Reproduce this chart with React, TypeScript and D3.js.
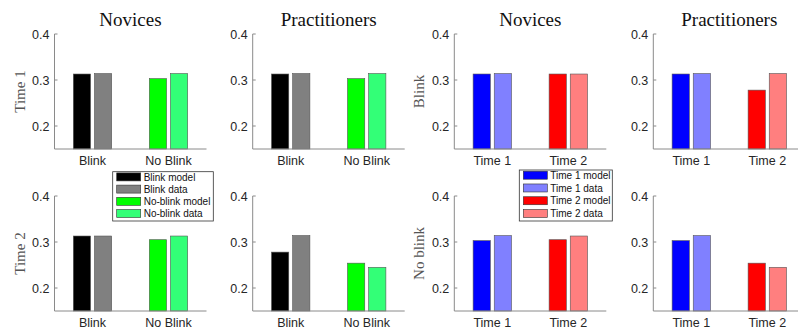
import React from "react";
import * as d3 from "d3";

// ---- data ----
const blinkCategories = ["Blink", "No Blink"];
const timeCategories = ["Time 1", "Time 2"];
const groupTitles = ["Novices", "Practitioners"];
const rowLabelsLeft = ["Time 1", "Time 2"];
const rowLabelsRight = ["Blink", "No blink"];
const yTicks = [0.2, 0.3, 0.4];

// values indexed by [Time 1, Time 2]
const novBlinkModel = [0.313, 0.313];
const novBlinkData = [0.314, 0.313];
const novNoBlinkModel = [0.303, 0.305];
const novNoBlinkData = [0.314, 0.313];
const praBlinkModel = [0.313, 0.278];
const praBlinkData = [0.314, 0.314];
const praNoBlinkModel = [0.303, 0.254];
const praNoBlinkData = [0.314, 0.245];

const legendLeft = ["Blink model", "Blink data", "No-blink model", "No-blink data"];
const legendRight = ["Time 1 model", "Time 1 data", "Time 2 model", "Time 2 data"];

const leftColors = [["#000000", "#808080"], ["#00ff00", "#33ff77"]];
const rightColors = [["#0000ff", "#8080ff"], ["#ff0000", "#ff7f7f"]];

const W = 798, H = 329;
const colX = [54.5, 252.7, 454.3, 653.3];
const axW = 152;
const rowTop = [34, 196];
const axH = 115;

const sans = "'Liberation Sans', Arial, sans-serif";
const serif = "'Liberation Serif', 'Times New Roman', serif";
const axisColor = "#8a8a8a";
const textColor = "#262626";

type PanelProps = {
  x0: number; y0: number; cats: string[];
  model: number[]; data: number[]; colors: string[][];
  title?: string; ylabel?: string;
};

function Panel({ x0, y0, cats, model, data, colors, title, ylabel }: PanelProps) {
  const x = d3.scaleLinear().domain([0.5, 2.5]).range([x0, x0 + axW]);
  const y = d3.scaleLinear().domain([0.15, 0.4]).range([y0 + axH, y0]);
  const bw = 0.227;
  const off = 0.139;
  const base = y(0.15);
  return (
    <g>
      {title && (
        <text x={x0 + axW / 2} y={26} textAnchor="middle" fontFamily={serif} fontSize={19} fill="#111">
          {title}
        </text>
      )}
      {ylabel && (
        <text transform={`translate(${x0 - 30},${y0 + axH / 2}) rotate(-90)`} textAnchor="middle"
          fontFamily={serif} fontSize={15} fill="#555">
          {ylabel}
        </text>
      )}
      {cats.map((c, i) => {
        const cx = i + 1;
        const bars = [
          { v: model[i], col: colors[i][0], dx: -off },
          { v: data[i], col: colors[i][1], dx: off },
        ];
        return (
          <g key={c}>
            {bars.map((b, j) => (
              <rect key={j} x={x(cx + b.dx - bw / 2)} y={y(b.v)}
                width={x(cx + b.dx + bw / 2) - x(cx + b.dx - bw / 2)} height={base - y(b.v)}
                fill={b.col} stroke="#555" strokeWidth={0.6} />
            ))}
            <text x={x(cx)} y={base + 16} textAnchor="middle" fontFamily={sans} fontSize={12.5} fill={textColor}>
              {c}
            </text>
          </g>
        );
      })}
      <line x1={x0} x2={x0} y1={y0} y2={base} stroke={axisColor} strokeWidth={1} />
      <line x1={x0} x2={x0 + axW} y1={base} y2={base} stroke={axisColor} strokeWidth={1} />
      {yTicks.map((t) => (
        <g key={t}>
          <line x1={x0} x2={x0 + 3} y1={y(t)} y2={y(t)} stroke={axisColor} strokeWidth={1} />
          <text x={x0 - 5} y={y(t) + 4.5} textAnchor="end" fontFamily={sans} fontSize={12.5} fill={textColor}>
            {d3.format(".1f")(t)}
          </text>
        </g>
      ))}
    </g>
  );
}

function Legend({ x, y, w, h, labels, colors }: { x: number; y: number; w: number; h: number; labels: string[]; colors: string[] }) {
  const rowY = d3.scaleLinear().domain([0, 3]).range([y + 5.2, y + h - 7.5]);
  return (
    <g>
      <rect x={x} y={y} width={w} height={h} fill="#fff" stroke="#333" strokeWidth={0.8} />
      {labels.map((l, i) => (
        <g key={l}>
          <rect x={x + 4} y={rowY(i) - 4} width={24} height={8} fill={colors[i]} stroke="#333" strokeWidth={0.6} />
          <text x={x + 31} y={rowY(i) + 3.6} fontFamily={sans} fontSize={10} fill="#111">{l}</text>
        </g>
      ))}
    </g>
  );
}

export default function App() {
  const novLeft = [
    { model: [novBlinkModel[0], novNoBlinkModel[0]], data: [novBlinkData[0], novNoBlinkData[0]] },
    { model: [novBlinkModel[1], novNoBlinkModel[1]], data: [novBlinkData[1], novNoBlinkData[1]] },
  ];
  const praLeft = [
    { model: [praBlinkModel[0], praNoBlinkModel[0]], data: [praBlinkData[0], praNoBlinkData[0]] },
    { model: [praBlinkModel[1], praNoBlinkModel[1]], data: [praBlinkData[1], praNoBlinkData[1]] },
  ];
  const novRight = [
    { model: novBlinkModel, data: novBlinkData },
    { model: novNoBlinkModel, data: novNoBlinkData },
  ];
  const praRight = [
    { model: praBlinkModel, data: praBlinkData },
    { model: praNoBlinkModel, data: praNoBlinkData },
  ];
  return (
    <svg width={W} height={H} style={{ position: "absolute", left: 0, top: 0, background: "#fff" }}>
      {[0, 1].map((r) => (
        <g key={r}>
          <Panel x0={colX[0]} y0={rowTop[r]} cats={blinkCategories} model={novLeft[r].model} data={novLeft[r].data}
            colors={leftColors} title={r === 0 ? groupTitles[0] : undefined} ylabel={rowLabelsLeft[r]} />
          <Panel x0={colX[1]} y0={rowTop[r]} cats={blinkCategories} model={praLeft[r].model} data={praLeft[r].data}
            colors={leftColors} title={r === 0 ? groupTitles[1] : undefined} />
          <Panel x0={colX[2]} y0={rowTop[r]} cats={timeCategories} model={novRight[r].model} data={novRight[r].data}
            colors={rightColors} title={r === 0 ? groupTitles[0] : undefined} ylabel={rowLabelsRight[r]} />
          <Panel x0={colX[3]} y0={rowTop[r]} cats={timeCategories} model={praRight[r].model} data={praRight[r].data}
            colors={rightColors} title={r === 0 ? groupTitles[1] : undefined} />
        </g>
      ))}
      <Legend x={112.7} y={171.7} w={100.6} h={49.3} labels={legendLeft}
        colors={[leftColors[0][0], leftColors[0][1], leftColors[1][0], leftColors[1][1]]} />
      <Legend x={519.3} y={170} w={93} h={51} labels={legendRight}
        colors={[rightColors[0][0], rightColors[0][1], rightColors[1][0], rightColors[1][1]]} />
    </svg>
  );
}
